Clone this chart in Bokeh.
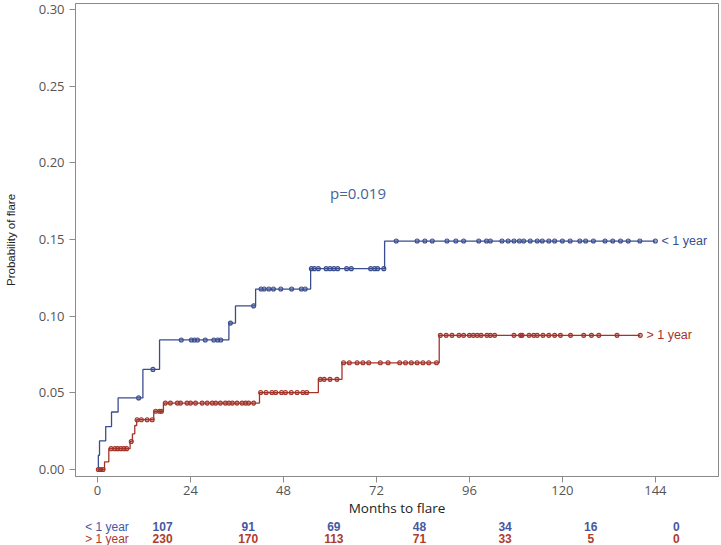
import numpy as np
from bokeh.plotting import figure
from bokeh.models import Range1d, FixedTicker, PrintfTickFormatter
from bokeh.layouts import column
from bokeh.core.properties import value
from bokeh.embed import file_html
from bokeh.resources import INLINE

# ---- data ----
lt_times = [0, 0.2, 0.5, 2.1, 3.6, 5.3, 11.7, 16.0, 33.9, 35.6, 40.8, 55.0, 74.1]
lt_prob = [0.0, 0.0093, 0.0187, 0.028, 0.0375, 0.0467, 0.0653, 0.0845, 0.0955, 0.1067, 0.1177, 0.131, 0.149]
lt_end = 144.0
lt_cens = [10.6, 14.3, 21.6, 24.2, 25.0, 25.8, 27.8, 30.0, 31.0, 31.8, 34.3, 40.3, 42.2, 43.0, 44.2,
           45.4, 47.3, 50.1, 52.6, 53.6, 55.2, 56.0, 57.0, 59.0, 60.0, 61.0, 62.0, 64.3, 65.5, 70.5,
           71.5, 72.3, 73.9, 77.1, 82.5, 84.5, 86.4, 90.2, 92.5, 94.5, 98.4, 100.4, 101.4, 104.4,
           106.0, 107.5, 108.9, 110.0, 111.7, 113.5, 114.8, 116.5, 118, 120, 122, 124.5, 126, 128,
           131, 133, 135, 137, 140, 144]

gt_times = [0, 1.8, 2.9, 8.4, 9.0, 9.6, 10.1, 14.5, 17.0, 41.8, 57.0, 63.1, 88.2]
gt_prob = [0.0, 0.005, 0.0136, 0.0183, 0.0233, 0.0287, 0.0325, 0.038, 0.0433, 0.0502, 0.0588, 0.0696, 0.0875]
gt_end = 140.1
gt_cens = [0.2, 0.8, 1.4, 3.5, 4.5, 5.2, 6.0, 6.8, 7.5, 8.7, 10.2, 11.3, 12.8, 14.1, 15.0, 16.0, 16.5,
           17.5, 18.8, 20.6, 21.4, 23.1, 24.0, 25.3, 27.0, 28.3, 29.6, 30.5, 31.7, 33.0, 33.9, 34.8,
           36.0, 37.3, 38.2, 39.0, 40.3, 42.1, 43.5, 45.0, 46.0, 47.5, 48.5, 50.0, 51.5, 53.0, 54.0,
           57.5, 58.5, 60.0, 61.8, 63.5, 65.0, 67.0, 68.5, 70.0, 73.0, 75.0, 78.0, 79.5, 81.0, 82.5,
           84.0, 85.5, 87.5, 88.5, 90.0, 91.5, 93.3, 94.5, 96.0, 97.0, 98.0, 99.0, 100.5, 101.4,
           102.5, 107.5, 109.2, 109.6, 111.4, 112.6, 113.5, 115.0, 116.5, 118.0, 119.5, 122.1,
           125.5, 127.5, 129.4, 134.1, 140.1]

group_labels = ["< 1 year", "> 1 year"]
p_value_text = "p=0.019"

x_ticks = [0, 24, 48, 72, 96, 120, 144]
y_ticks = [0.00, 0.05, 0.10, 0.15, 0.20, 0.25, 0.30]

risk_times = [0, 24, 48, 72, 96, 120, 144]
risk_lt = [107, 91, 69, 48, 34, 16, 0]
risk_gt = [230, 170, 113, 71, 33, 5, 0]

BLUE = "#3a4d8f"
RED = "#a3342a"
BLUE_T = "#4657a3"
RED_T = "#b03a2c"
GRAY = "#8a8a8a"


def step_level(times, probs, t):
    idx = np.searchsorted(np.asarray(times), np.asarray(t), side="right") - 1
    return np.asarray(probs)[idx]


# ---- main plot ----
p = figure(width=721, height=519, output_backend="svg", toolbar_location=None,
           x_range=Range1d(-5.7, 160.3), y_range=Range1d(-0.00455, 0.3039),
           min_border_left=75, min_border_right=3, min_border_top=3, min_border_bottom=41,
           background_fill_color="white", border_fill_color="white")
p.outline_line_color = GRAY
p.outline_line_width = 1
p.xgrid.visible = False
p.ygrid.visible = False

for ax in (p.xaxis[0], p.yaxis[0]):
    ax.axis_line_color = GRAY
    ax.major_tick_line_color = GRAY
    ax.minor_tick_line_color = None
    ax.major_tick_in = 0
    ax.major_tick_out = 6
    ax.major_label_text_font = "Open Sans"
    ax.major_label_text_font_size = "13px"
    ax.major_label_text_color = "#555555"
    ax.axis_label_text_font_style = "normal"
    ax.axis_label_text_color = "#222222"

p.xaxis.ticker = FixedTicker(ticks=x_ticks)
p.yaxis.ticker = FixedTicker(ticks=y_ticks)
p.yaxis.formatter = PrintfTickFormatter(format="%.2f")
p.xaxis.major_label_standoff = 3
p.yaxis.major_label_standoff = 5

p.xaxis.axis_label = "Months to flare"
p.xaxis.axis_label_text_font = "Open Sans"
p.xaxis.axis_label_text_font_size = "13.5px"
p.xaxis.axis_label_standoff = 1

p.yaxis.axis_label = "Probability of flare"
p.yaxis.axis_label_text_font = "Liberation Sans"
p.yaxis.axis_label_text_font_size = "11.5px"
p.yaxis.axis_label_standoff = 19

for times, probs, end, cens, col, lab in (
        (lt_times, lt_prob, lt_end, lt_cens, BLUE, group_labels[0]),
        (gt_times, gt_prob, gt_end, gt_cens, RED, group_labels[1])):
    xs = list(times) + [end]
    ys = list(probs) + [probs[-1]]
    p.step(xs, ys, mode="after", line_color=col, line_width=1.3)
    cy = step_level(times, probs, cens)
    p.scatter(cens, cy, marker="circle", size=4, line_color=col, fill_color=col,
              fill_alpha=0.35, line_width=1.1)
    p.text(x=[end + 1.6], y=[probs[-1]], text=[lab], text_color=col,
           text_font=value("Liberation Sans"), text_font_size="12.5px",
           text_baseline="middle", text_align="left")

p.text(x=[60.0], y=[0.18], text=[p_value_text], text_color="#46629a",
       text_font=value("Open Sans"), text_font_size="15px",
       text_baseline="middle", text_align="left")

# ---- number-at-risk table ----
t = figure(width=721, height=26, output_backend="svg", toolbar_location=None,
           x_range=Range1d(-24.4, 155.8), y_range=Range1d(0, 26),
           x_axis_type=None, y_axis_type=None,
           min_border_left=0, min_border_right=0, min_border_top=0, min_border_bottom=0)
t.outline_line_color = None
t.xgrid.visible = False
t.ygrid.visible = False

row_y = [19.0, 7.0]
for ry, counts, col, lab in ((row_y[0], risk_lt, BLUE_T, group_labels[0]),
                             (row_y[1], risk_gt, RED_T, group_labels[1])):
    t.text(x=risk_times, y=[ry] * len(risk_times), text=[str(c) for c in counts],
           text_color=col, text_font=value("Liberation Sans"), text_font_size="12px",
           text_font_style="bold", text_align="center", text_baseline="middle")
    t.text(x=[-21.7], y=[ry], text=[lab], text_color=col,
           text_font=value("Liberation Sans"), text_font_size="12px",
           text_align="left", text_baseline="middle")

layout = column(p, t, spacing=0)

html = file_html(layout, INLINE)
html = html.replace("<head>", "<head><style>html,body{margin:0;padding:0;}</style>", 1)
open("out.html", "w").write(html)
